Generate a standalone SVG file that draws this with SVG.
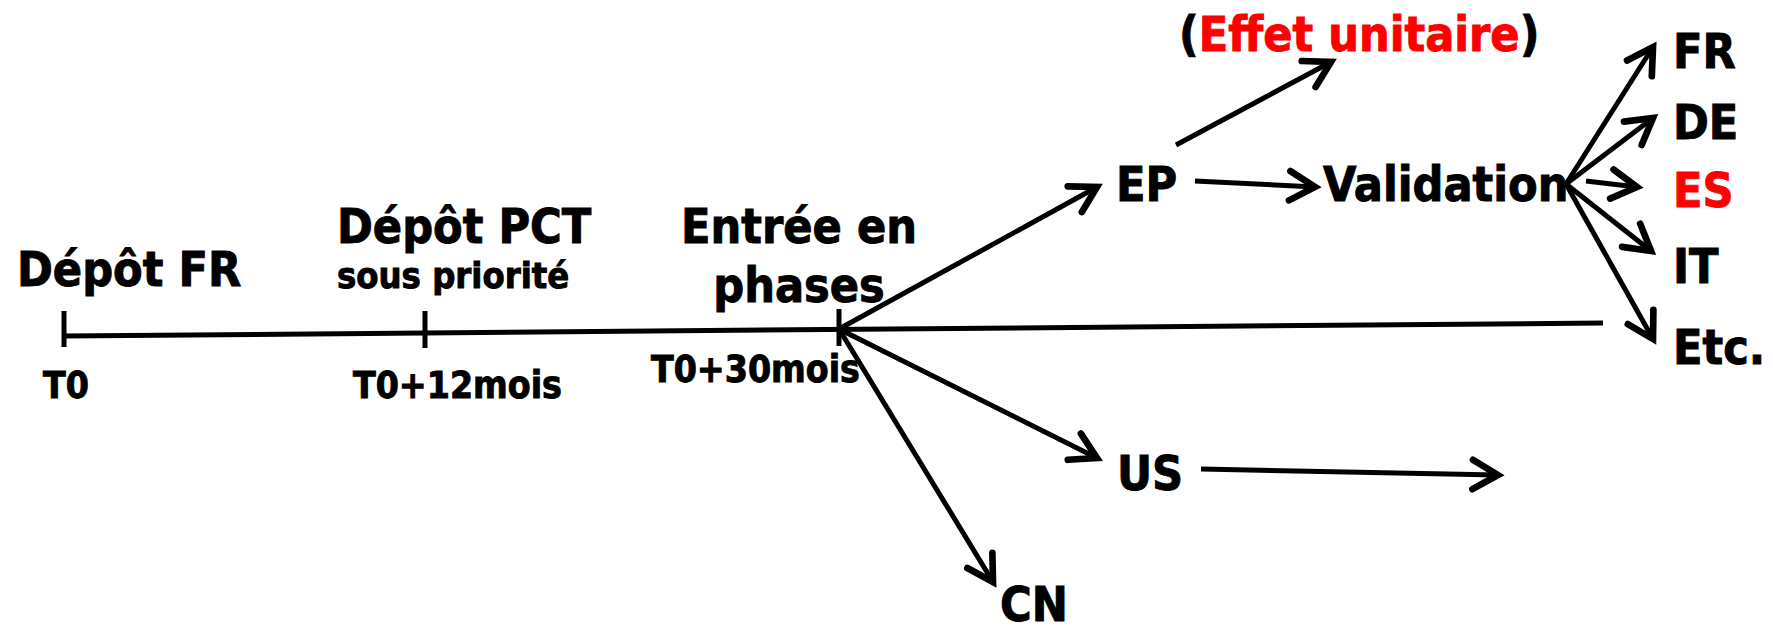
<svg xmlns="http://www.w3.org/2000/svg" width="1773" height="631" viewBox="0 0 1773 631">
<style>
text{font-family:"DejaVu Sans Condensed","DejaVu Sans",sans-serif;font-weight:bold;fill:#000;stroke:#000;stroke-width:0.9px}
.big{font-size:48px}
.mid{font-size:37px}
.red{fill:#ff0000;stroke:#ff0000}
.ln{stroke:#000;stroke-width:5;fill:none}
</style>
<defs>
<marker id="ah" markerUnits="userSpaceOnUse" markerWidth="40" markerHeight="40" viewBox="-25 -15 30 30" refX="0" refY="0" orient="auto">
<path d="M-19,-11 L0,0 L-19,11" fill="none" stroke="#000" stroke-width="5" stroke-linecap="round" stroke-linejoin="miter"/>
</marker>
</defs>
<rect width="1773" height="631" fill="#fff"/>
<g id="connectors">
<line class="ln" x1="64" y1="336" x2="1603" y2="323"/>
<line class="ln" x1="64" y1="311" x2="64" y2="347"/>
<line class="ln" x1="425" y1="311" x2="425" y2="348"/>
<line class="ln" x1="839" y1="309" x2="839" y2="346"/>
<line class="ln" x1="839" y1="329" x2="1097" y2="187" marker-end="url(#ah)"/>
<line class="ln" x1="839" y1="329" x2="1097" y2="458" marker-end="url(#ah)"/>
<line class="ln" x1="839" y1="329" x2="993" y2="582" marker-end="url(#ah)"/>
<line class="ln" x1="1176" y1="145" x2="1331" y2="62" marker-end="url(#ah)"/>
<line class="ln" x1="1195" y1="181" x2="1315" y2="187" marker-end="url(#ah)"/>
<line class="ln" x1="1566" y1="184" x2="1653" y2="47" marker-end="url(#ah)"/>
<line class="ln" x1="1566" y1="184" x2="1653" y2="118" marker-end="url(#ah)"/>
<line class="ln" x1="1586" y1="181" x2="1637" y2="187" marker-end="url(#ah)"/>
<line class="ln" x1="1566" y1="184" x2="1651" y2="251" marker-end="url(#ah)"/>
<line class="ln" x1="1566" y1="184" x2="1653" y2="339" marker-end="url(#ah)"/>
<line class="ln" x1="1201" y1="469" x2="1498" y2="475" marker-end="url(#ah)"/>
</g>
<g id="depot-fr"><text class="big" x="17" y="286">Dépôt FR</text><text class="mid" x="43" y="398">T0</text></g>
<g id="depot-pct"><text class="big" x="337" y="243">Dépôt PCT</text><text x="337" y="288" style="font-size:36px">sous priorité</text><text class="mid" x="353" y="398">T0+12mois</text></g>
<g id="entree"><text class="big" x="799" y="243" text-anchor="middle">Entrée en</text><text class="big" x="799" y="302" text-anchor="middle">phases</text><text class="mid" x="651" y="382">T0+30mois</text></g>
<g id="ep"><text class="big" x="1116" y="201">EP</text></g>
<g id="effet"><text class="big" x="1179" y="51">(<tspan class="red">Effet unitaire</tspan>)</text></g>
<g id="validation"><text class="big" x="1323" y="201">Validation</text></g>
<g id="fr"><text class="big" x="1673" y="68">FR</text></g>
<g id="de"><text class="big" x="1673" y="139">DE</text></g>
<g id="es"><text class="big red" x="1673" y="207">ES</text></g>
<g id="it"><text class="big" x="1673" y="283">IT</text></g>
<g id="etc"><text class="big" x="1673" y="364">Etc.</text></g>
<g id="us"><text class="big" x="1117" y="490">US</text></g>
<g id="cn"><text class="big" x="1000" y="621">CN</text></g>
</svg>
